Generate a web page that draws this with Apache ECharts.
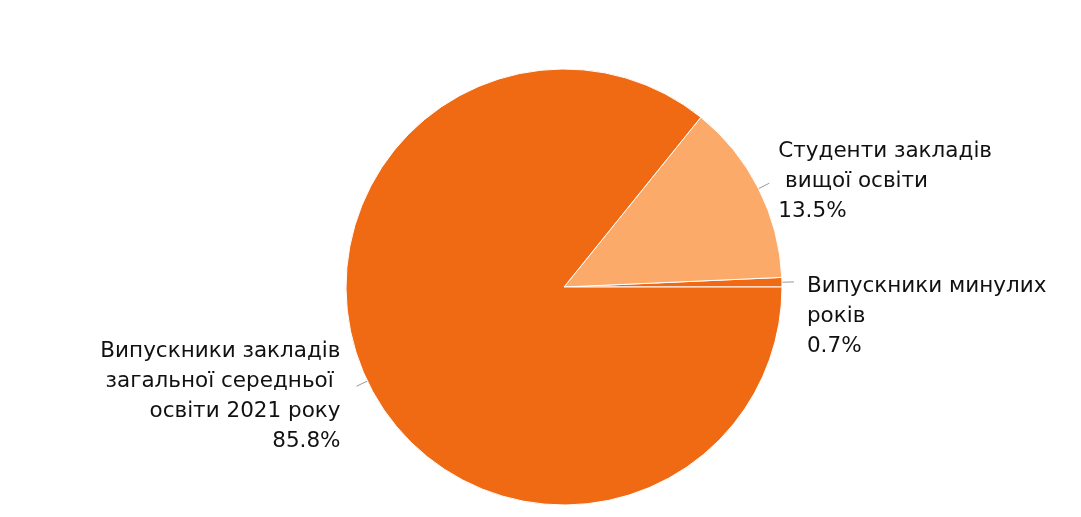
<!DOCTYPE html>
<html>
<head>
<meta charset="utf-8">
<script src="https://cdn.jsdelivr.net/npm/echarts@6/dist/echarts.min.js"></script>
<style>
html,body{margin:0;padding:0;background:#fff;}
#chart{width:1081px;height:517px;}
</style>
</head>
<body>
<div id="chart"></div>
<script>
const categories = [
  'Випускники минулих\nроків',
  'Студенти закладів\n вищої освіти',
  'Випускники закладів\nзагальної середньої \nосвіти 2021 року'
];
const values = [0.7, 13.5, 85.8];
const colors = ['#F06A14', '#FBAA6A', '#F06A14'];

const chart = echarts.init(document.getElementById('chart'), null, {renderer: 'canvas'});
const labelAlign = ['left', 'left', 'right'];
const labelDx = [5, 1, -8];
const labelDy = [34, -2, 10];
chart.setOption({
  animation: false,
  series: [{
    type: 'pie',
    center: ['564px', '287px'],
    radius: 218,
    startAngle: 0,
    clockwise: false,
    avoidLabelOverlap: false,
    itemStyle: {borderColor: '#ffffff', borderWidth: 1},
    label: {
      show: true,
      formatter: p => p.name + '\n' + p.value + '%',
      fontFamily: 'DejaVu Sans',
      fontSize: 21.5,
      lineHeight: 30,
      color: '#111111',
      distanceToLabelLine: 8
    },
    labelLine: {
      show: true,
      length: 12,
      length2: 0,
      lineStyle: {color: '#999999', width: 1}
    },
    labelLayout: params => ({
      dx: labelDx[params.dataIndex],
      dy: labelDy[params.dataIndex],
      align: labelAlign[params.dataIndex]
    }),
    data: categories.map((c, i) => ({
      name: c,
      value: values[i],
      itemStyle: {color: colors[i]},
      label: {align: labelAlign[i]}
    }))
  }]
});
</script>
</body>
</html>
